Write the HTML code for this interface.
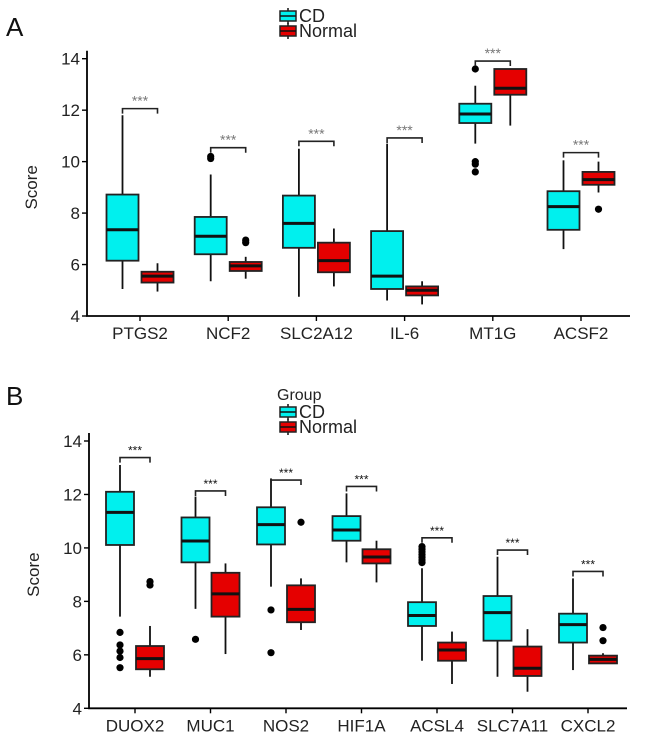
<!DOCTYPE html>
<html><head><meta charset="utf-8"><style>
body{margin:0;background:#fff}
svg{display:block;font-family:"Liberation Sans",Arial,sans-serif}
</style></head><body>
<svg id="fig" width="646" height="741" viewBox="0 0 646 741"></svg>
<script>
// Panel A data
const catsA = ["PTGS2","NCF2","SLC2A12","IL-6","MT1G","ACSF2"];
const cdA = [[5.05,6.15,7.35,8.72,11.8],[5.35,6.4,7.1,7.85,9.5],[4.75,6.65,7.6,8.68,10.5],[4.6,5.05,5.55,7.3,10.7],[10.7,11.5,11.85,12.25,12.95],[6.6,7.35,8.25,8.85,10.05]];
const cdOutA = [[],[10.2,10.12],[],[],[13.6,10.0,9.9,9.6],[]];
const nmA = [[4.95,5.3,5.55,5.72,6.05],[5.45,5.75,5.95,6.1,6.3],[5.15,5.7,6.15,6.85,7.4],[4.45,4.8,5.0,5.15,5.35],[11.4,12.6,12.85,13.6,13.6],[8.8,9.1,9.3,9.6,10.0]];
const nmOutA = [[],[6.95,6.85],[],[],[],[8.15]];
const brA = [12.06,10.54,10.79,10.92,13.91,10.35];
const ticksA = [4,6,8,10,12,14];
// Panel B data
const catsB = ["DUOX2","MUC1","NOS2","HIF1A","ACSL4","SLC7A11","CXCL2"];
const cdB = [[7.43,10.11,11.33,12.1,13.1],[7.72,9.46,10.26,11.14,11.92],[8.55,10.13,10.87,11.52,12.6],[9.46,10.27,10.67,11.19,12.04],[5.78,7.08,7.47,7.97,9.24],[5.18,6.53,7.58,8.2,9.67],[5.43,6.46,7.13,7.54,8.86]];
const cdOutB = [[6.84,6.37,6.14,5.9,5.52],[6.58],[7.68,6.08],[],[9.45,9.55,9.65,9.75,9.85,9.95,10.05],[],[]];
const nmB = [[5.18,5.46,5.86,6.33,7.08],[6.03,7.43,8.28,9.07,9.42],[6.93,7.22,7.7,8.6,8.86],[8.71,9.42,9.66,9.95,10.27],[4.91,5.78,6.18,6.46,6.87],[4.62,5.21,5.5,6.31,6.96],[5.68,5.68,5.83,5.97,6.06]];
const nmOutB = [[8.74,8.61],[],[10.96],[],[],[],[6.53,7.02]];
const brB = [13.38,12.13,12.54,12.3,10.38,9.92,9.12];
const ticksB = [4,6,8,10,12,14];

const NS="http://www.w3.org/2000/svg";
const svg=document.getElementById('fig');
function mk(tag,attrs,parent,text){const e=document.createElementNS(NS,tag);for(const k in attrs)e.setAttribute(k,attrs[k]);if(text!==undefined)e.textContent=text;(parent||svg).appendChild(e);return e;}

function panel(cfg){
  const g=mk('g',{});
  
  
  const y=v=>cfg.y0-(v-4)*(cfg.y0-cfg.y14)/10;
  const x=i=>cfg.c0+i*cfg.step;
  const ax=mk('path',{d:`M${cfg.ax} ${cfg.y14-8}V${cfg.y0}H${cfg.axEnd}`,stroke:'#000','stroke-width':1.8,fill:'none'},g);
   
  cfg.ticks.forEach(t=>{
    mk('line',{x1:cfg.ax-5,x2:cfg.ax,y1:y(t),y2:y(t),stroke:'#000','stroke-width':1.4},g);
    const tl=mk('text',{x:cfg.ax-7,y:y(t)+6,'text-anchor':'end','font-size':17,fill:'#222'},g,String(t));
     
  });
  const yl=mk('text',{x:0,y:0,transform:`translate(${cfg.ax-50},${(cfg.y0+cfg.y14)/2}) rotate(-90)`,'text-anchor':'middle','font-size':17,fill:'#222'},g,'Score');
   
  cfg.cats.forEach((c,i)=>{
    mk('line',{x1:x(i),x2:x(i),y1:cfg.y0,y2:cfg.y0+5,stroke:'#000','stroke-width':1.4},g);
    const xl=mk('text',{x:x(i),y:cfg.y0+23,'text-anchor':'middle','font-size':17,fill:'#222'},g,c);
     
    [[cfg.cd[i],cfg.cdOut[i],-cfg.off,'#00f0ee','cd'],[cfg.nm[i],cfg.nmOut[i],cfg.off,'#e50000','normal']].forEach(([d,outs,o,col,nm])=>{
      const cx=x(i)+o, w=cfg.bw;
      const bg=mk('g',{},g);
      
      
      mk('line',{x1:cx,x2:cx,y1:y(d[0]),y2:y(d[4]),stroke:'#111','stroke-width':1.8},bg);
      mk('rect',{x:cx-w/2,y:y(d[3]),width:w,height:Math.max(1,y(d[1])-y(d[3])),fill:col,stroke:'#222','stroke-width':1.8},bg);
      mk('line',{x1:cx-w/2,x2:cx+w/2,y1:y(d[2]),y2:y(d[2]),stroke:'#111','stroke-width':3},bg);
      outs.forEach(v=>mk('circle',{cx:cx,cy:y(v),r:3.6,fill:'#000'},bg));
    });
    const by=y(cfg.br[i]);
    const b=mk('path',{d:`M${x(i)-cfg.off} ${by+5}V${by}H${x(i)+cfg.off}V${by+5}`,stroke:'#222','stroke-width':1.6,fill:'none'},g);
     
    const st=mk('text',{x:x(i),y:by-3,'text-anchor':'middle','font-size':cfg.starSize,fill:cfg.starCol},g,'***');
     
  });
}
function legend(x0,yCD,yN,title){
  const g=mk('g',{});
  
  
  if(title){const t=mk('text',{x:x0-3,y:yCD-12,'font-size':16,fill:'#222'},g,title);}
  [[yCD,'#00f0ee','CD'],[yN,'#e50000','Normal']].forEach(([yy,c,l])=>{
    const e=mk('g',{},g);
    
    
    mk('line',{x1:x0+8,x2:x0+8,y1:yy-8,y2:yy+8,stroke:'#111','stroke-width':1.5},e);
    mk('rect',{x:x0,y:yy-5,width:16,height:10,fill:c,stroke:'#222','stroke-width':1.5},e);
    mk('line',{x1:x0,x2:x0+16,y1:yy,y2:yy,stroke:'#111','stroke-width':1.5},e);
    mk('text',{x:x0+19,y:yy+6,'font-size':18,fill:'#222'},e,l);
  });
}
const la=mk('text',{x:6,y:36,'font-size':26,fill:'#111'},svg,'A');
 
const lb=mk('text',{x:6,y:405,'font-size':26,fill:'#111'},svg,'B');
 
legend(280,16,31,null);
legend(280,412,427,'Group');
panel({name:'panel-a',cats:catsA,cd:cdA,cdOut:cdOutA,nm:nmA,nmOut:nmOutA,br:brA,ticks:ticksA,y0:316,y14:58.7,ax:87,axEnd:630,c0:140,step:88.2,off:17.5,bw:32,starSize:14,starCol:'#777'});
panel({name:'panel-b',cats:catsB,cd:cdB,cdOut:cdOutB,nm:nmB,nmOut:nmOutB,br:brB,ticks:ticksB,y0:708.3,y14:441,ax:89,axEnd:627,c0:135,step:75.5,off:15,bw:28,starSize:12,starCol:'#111'});
</script>
</body></html>
